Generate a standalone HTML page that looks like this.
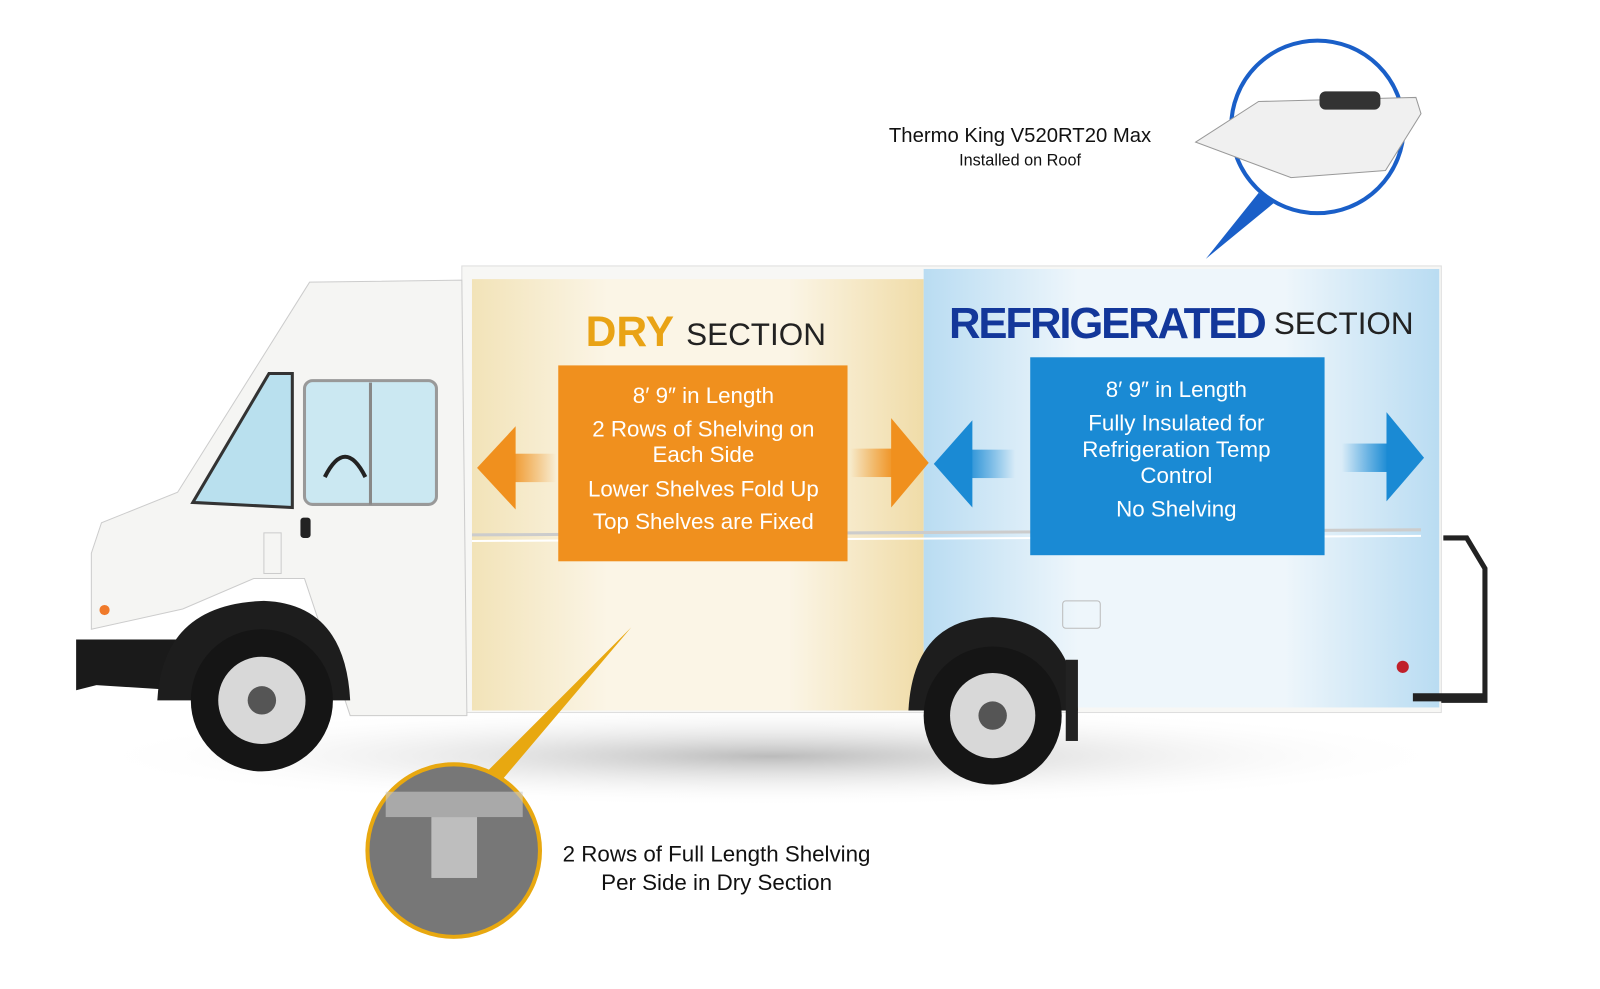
<!DOCTYPE html>
<html><head><meta charset="utf-8"><style>
html,body{margin:0;padding:0;background:#fff;}
svg{display:block;font-family:"Liberation Sans",sans-serif;}
</style></head><body>
<svg width="1600" height="989" viewBox="0 0 1600 989" xmlns="http://www.w3.org/2000/svg">
<defs>
<linearGradient id="dry" x1="0" x2="1" y1="0" y2="0">
<stop offset="0" stop-color="#f2e3b8"/><stop offset="0.3" stop-color="#fbf5e6"/><stop offset="0.7" stop-color="#fbf5e6"/><stop offset="1" stop-color="#f0dca8"/></linearGradient>
<linearGradient id="ref" x1="0" x2="1" y1="0" y2="0">
<stop offset="0" stop-color="#b9dcf2"/><stop offset="0.3" stop-color="#eef6fb"/><stop offset="0.7" stop-color="#eef6fb"/><stop offset="1" stop-color="#b9dcf2"/></linearGradient>
<radialGradient id="shadow" cx="0.5" cy="0.5" r="0.5"><stop offset="0" stop-color="#bbb"/><stop offset="1" stop-color="#fff" stop-opacity="0"/></radialGradient>
<linearGradient id="ao" x1="0" x2="1"><stop offset="0" stop-color="#f0901e" stop-opacity="0"/><stop offset="1" stop-color="#f0901e"/></linearGradient>
<linearGradient id="ao2" x1="1" x2="0"><stop offset="0" stop-color="#f0901e" stop-opacity="0"/><stop offset="1" stop-color="#f0901e"/></linearGradient>
<linearGradient id="ab" x1="0" x2="1"><stop offset="0" stop-color="#1a8ad4" stop-opacity="0"/><stop offset="1" stop-color="#1a8ad4"/></linearGradient>
<linearGradient id="ab2" x1="1" x2="0"><stop offset="0" stop-color="#1a8ad4" stop-opacity="0"/><stop offset="1" stop-color="#1a8ad4"/></linearGradient>
</defs>
<g transform="scale(1.015)">
<ellipse cx="760" cy="745" rx="680" ry="50" fill="url(#shadow)"/>
<rect x="455" y="262" width="965" height="440" fill="#f7f7f5" stroke="#ddd"/>
<rect x="465" y="275" width="445" height="425" fill="url(#dry)"/>
<rect x="910" y="265" width="508" height="432" fill="url(#ref)"/>
<line x1="465" y1="527" x2="1400" y2="522" stroke="#ccc" stroke-width="3"/>
<line x1="465" y1="533" x2="1400" y2="528" stroke="#fff" stroke-width="2"/>
<rect x="1047" y="592" width="37" height="27" fill="none" stroke="#bbb" rx="3"/>
<path d="M305 278 L455 276 L460 705 L345 705 L300 570 L250 570 L180 600 L90 620 L90 545 L100 515 L175 485 Z" fill="#f5f5f3" stroke="#ccc"/>
<path d="M190 495 L265 368 L288 368 L288 500 Z" fill="#b9e0ee" stroke="#333" stroke-width="3"/>
<rect x="300" y="375" width="130" height="122" rx="8" fill="#cbe8f2" stroke="#999" stroke-width="3"/>
<line x1="365" y1="377" x2="365" y2="497" stroke="#888" stroke-width="3"/>
<path d="M320 470 Q340 430 360 470" stroke="#222" stroke-width="4" fill="none"/>
<rect x="296" y="510" width="10" height="20" rx="3" fill="#222"/>
<rect x="260" y="525" width="17" height="40" fill="none" stroke="#ccc"/>
<path d="M75 630 L175 630 L175 680 L95 675 L75 680 Z" fill="#1a1a1a"/>
<circle cx="103" cy="601" r="5" fill="#f07a2a"/>
<path d="M155 690 Q160 595 260 592 Q340 595 345 690 Z" fill="#1d1d1d"/>
<path d="M895 700 Q900 610 978 608 Q1055 610 1062 700 Z" fill="#1d1d1d"/>
<rect x="1050" y="650" width="12" height="80" fill="#222"/>
<circle cx="258" cy="690" r="70" fill="#151515"/><circle cx="258" cy="690" r="43" fill="#d8d8d8"/><circle cx="258" cy="690" r="14" fill="#555"/>
<circle cx="978" cy="705" r="68" fill="#151515"/><circle cx="978" cy="705" r="42" fill="#d8d8d8"/><circle cx="978" cy="705" r="14" fill="#555"/>
<path d="M1422 530 L1445 530 L1463 560 L1463 690 L1420 690" fill="none" stroke="#222" stroke-width="5"/>
<rect x="1392" y="683" width="72" height="8" fill="#222"/>
<circle cx="1382" cy="657" r="6" fill="#c0202a"/>
<text x="577" y="341" font-size="42" font-weight="bold" fill="#e9a315">DRY</text>
<text x="676" y="340" font-size="31" fill="#222">SECTION</text>
<text x="935" y="333" font-size="43" font-weight="bold" fill="#13379a" textLength="313">REFRIGERATED</text>
<text x="1255" y="329" font-size="31" fill="#222">SECTION</text>
<rect x="550" y="360" width="285" height="193" fill="#f0901e"/>
<g fill="#fff" font-size="22" text-anchor="middle">
<text x="693" y="397">8′ 9″ in Length</text>
<text x="693" y="430">2 Rows of Shelving on</text>
<text x="693" y="455">Each Side</text>
<text x="693" y="489">Lower Shelves Fold Up</text>
<text x="693" y="521">Top Shelves are Fixed</text>
</g>
<rect x="1015" y="352" width="290" height="195" fill="#1a8ad4"/>
<g fill="#fff" font-size="22" text-anchor="middle">
<text x="1159" y="391">8′ 9″ in Length</text>
<text x="1159" y="424">Fully Insulated for</text>
<text x="1159" y="450">Refrigeration Temp</text>
<text x="1159" y="476">Control</text>
<text x="1159" y="509">No Shelving</text>
</g>
<rect x="500" y="447" width="48" height="28" fill="url(#ao2)"/><polygon points="470,461 508,420 508,502" fill="#f0901e"/>
<rect x="838" y="442" width="44" height="28" fill="url(#ao)"/><polygon points="915,456 878,412 878,500" fill="#f0901e"/>
<rect x="950" y="443" width="50" height="28" fill="url(#ab2)"/><polygon points="920,457 958,414 958,500" fill="#1a8ad4"/>
<rect x="1322" y="437" width="46" height="28" fill="url(#ab)"/><polygon points="1403,451 1366,406 1366,494" fill="#1a8ad4"/>
<polygon points="1188,255 1240,190 1255,200" fill="#1a5fc8"/>
<circle cx="1298" cy="125" r="85" fill="#fff" stroke="#1a5fc8" stroke-width="4"/>
<path d="M1178 140 L1240 100 L1395 96 L1400 112 L1365 168 L1272 175 Z" fill="#f0f0f0" stroke="#999"/>
<rect x="1300" y="90" width="60" height="18" rx="6" fill="#333"/>
<text x="1005" y="140" font-size="20" fill="#111" text-anchor="middle">Thermo King V520RT20 Max</text>
<text x="1005" y="163" font-size="16" fill="#111" text-anchor="middle">Installed on Roof</text>
<polygon points="622,618 480,760 495,768" fill="#e8a810"/>
<circle cx="447" cy="838" r="85" fill="#777" stroke="#e8a810" stroke-width="4"/>
<rect x="380" y="780" width="135" height="25" fill="#ccc" opacity="0.6"/>
<rect x="425" y="805" width="45" height="60" fill="#ddd" opacity="0.7"/>
<text x="706" y="849" font-size="22" fill="#111" text-anchor="middle">2 Rows of Full Length Shelving</text>
<text x="706" y="877" font-size="22" fill="#111" text-anchor="middle">Per Side in Dry Section</text>
</g>
</svg>
</body></html>
